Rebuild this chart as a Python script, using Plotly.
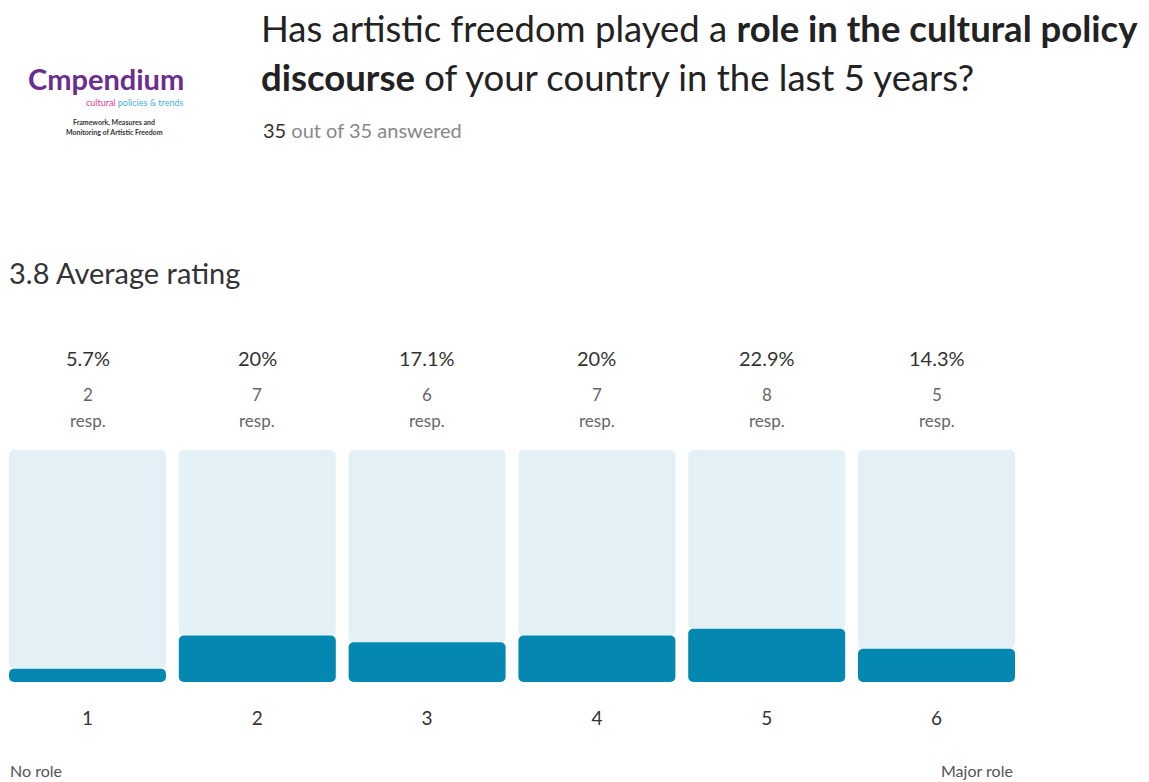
import plotly.graph_objects as go

ratings = [1, 2, 3, 4, 5, 6]
counts = [2, 7, 6, 7, 8, 5]
percents = [5.7, 20, 17.1, 20, 22.9, 14.3]
pct_labels = ["5.7%", "20%", "17.1%", "20%", "22.9%", "14.3%"]
full_scale = [100] * 6

W, H = 1149, 782
T, B = 450, 100
FONT = "Lato"
BG = "#e3f1f6"
FILL = "#0487b0"
BW = 0.9246

def px(x, y):
    return x / W, (H - B - y) / (H - T - B)

fig = go.Figure()
# remaining (unfilled) part of each bar, rounded at the top
fig.add_trace(go.Bar(x=ratings, y=[f - p for f, p in zip(full_scale, percents)], base=percents,
                     width=BW, marker=dict(color=BG, cornerradius=5, line=dict(width=0)),
                     hoverinfo="skip", showlegend=False))
# filled value part, drawn downward so its rounded end is at the bottom
fig.add_trace(go.Bar(x=ratings, y=[-p for p in percents], base=percents, width=BW,
                     marker=dict(color=FILL, cornerradius=5, line=dict(width=0)),
                     customdata=percents,
                     hovertemplate="%{x}: %{customdata}%<extra></extra>", showlegend=False))

ann = []
_, y1 = px(0, 358)
_, y2 = px(0, 394)
_, y3 = px(0, 420)
for r, lab, c in zip(ratings, pct_labels, counts):
    ann.append(dict(x=r, y=y1, xref="x", yref="paper", text=lab, showarrow=False,
                    yanchor="middle", font=dict(family=FONT, size=20, color="#333333")))
    ann.append(dict(x=r, y=y2, xref="x", yref="paper", text=str(c), showarrow=False,
                    yanchor="middle", font=dict(family=FONT, size=17, color="#666666")))
    ann.append(dict(x=r, y=y3, xref="x", yref="paper", text="resp.", showarrow=False,
                    yanchor="middle", font=dict(family=FONT, size=17, color="#666666")))

def add(x, y, text, size, color, xanchor="left", yanchor="middle"):
    xp, yp = px(x, y)
    ann.append(dict(x=xp, y=yp, xref="paper", yref="paper", text=text, showarrow=False,
                    xanchor=xanchor, yanchor=yanchor, align="left",
                    font=dict(family=FONT, size=size, color=color)))

add(259, 28, "Has artistic freedom played a <b>role in the cultural policy</b>", 36.5, "#222222")
add(259, 77, "<b>discourse</b> of your country in the last 5 years?", 36.5, "#222222")
add(261, 130, "<span style='color:#333333'>35</span> out of 35 answered", 20, "#888888")
add(7, 272, "3.8 Average rating", 29, "#333333")
add(8, 770, "No role", 16, "#555555")
add(1015, 770, "Major role", 16, "#555555", xanchor="right")

# logo
add(26, 78, "<b>Cmpendium</b>", 29, "#6b2d8e")
add(84, 102, "<span style='color:#e0408f'>cultural</span> <span style='color:#3fb3e6'>policies &amp; trends</span>", 9, "#3fb3e6")
add(114, 122, "<b>Framework, Measures and</b>", 7, "#333333", xanchor="center")
add(114, 132, "<b>Monitoring of Artistic Freedom</b>", 7, "#333333", xanchor="center")

fig.update_layout(
    width=W, height=H, barmode="overlay",
    margin=dict(l=0, r=0, t=T, b=B),
    paper_bgcolor="white", plot_bgcolor="white",
    annotations=ann,
    xaxis=dict(range=[0.4847, 7.2514], tickvals=ratings, ticktext=[str(r) for r in ratings],
               showgrid=False, zeroline=False, showline=False, ticks="",
               tickfont=dict(family=FONT, size=19, color="#333333"), ticklabelstandoff=23),
    yaxis=dict(range=[0, 100], visible=False, showgrid=False, zeroline=False),
    font=dict(family=FONT),
)

fig.write_html("out.html")
